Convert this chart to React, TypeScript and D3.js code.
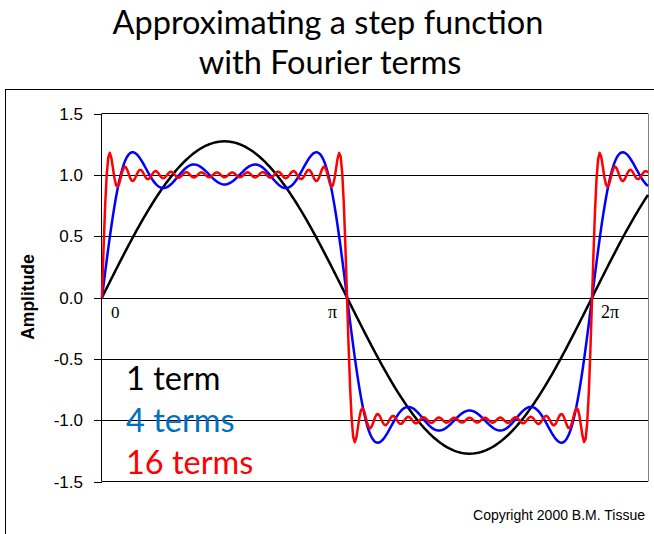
import React from "react";
import * as d3 from "d3";

// ---- data ----
const termCounts = [1, 4, 16];
const seriesLabels = ["1 term", "4 terms", "16 terms"];
const seriesColors = ["#000000", "#0000ff", "#ff0000"];
const labelColors = ["#000000", "#0070c0", "#ff0000"];
const yTicks = [1.5, 1.0, 0.5, 0.0, -0.5, -1.0, -1.5];
const xMarkLabels = ["0", "π", "2π"];
const xMarkValues = [0, Math.PI, 2 * Math.PI];
const xDomain = [0, 7];
const yDomain = [-1.5, 1.5];
const sampleStep = 0.02;

const W = 654;
const H = 534;

// Fourier partial sum of a square wave with k odd harmonics
function fourierSquare(x: number, k: number): number {
  let s = 0;
  for (let i = 0; i < k; i++) {
    const n = 2 * i + 1;
    s += Math.sin(n * x) / n;
  }
  return (4 / Math.PI) * s;
}

export default function App() {
  const left = 102, right = 648, top = 113.5, bottom = 481.5;
  const x = d3.scaleLinear().domain(xDomain).range([left, right]);
  const y = d3.scaleLinear().domain(yDomain).range([bottom, top]);
  const xs = d3.range(xDomain[0], xDomain[1] + 1e-9, sampleStep);
  const line = d3
    .line<[number, number]>()
    .x((d) => x(d[0]))
    .y((d) => y(d[1]));

  const labelOffsets = [9, -19, 9];
  const labelSizes = [17, 18, 18];
  const legendY = [390, 432, 474];

  return (
    <svg width={W} height={H} style={{ position: "absolute", left: 0, top: 0 }}>
      <rect x={0} y={0} width={W} height={H} fill="#fff" />
      {/* title */}
      <text
        x={328}
        y={34}
        textAnchor="middle"
        fontFamily="Lato, 'Open Sans', sans-serif"
        fontSize={32.5}
        fill="#000"
      >
        Approximating a step function
      </text>
      <text
        x={330}
        y={74}
        textAnchor="middle"
        fontFamily="Lato, 'Open Sans', sans-serif"
        fontSize={32.5}
        fill="#000"
      >
        with Fourier terms
      </text>
      {/* outer border */}
      <rect x={5.5} y={89.5} width={800} height={600} fill="none" stroke="#000" strokeWidth={1} />
      {/* gridlines and ticks */}
      {yTicks.map((t) => (
        <g key={t}>
          <line
            x1={94}
            x2={t === 1.5 || t === -1.5 ? left : right}
            y1={Math.round(y(t)) + 0.5}
            y2={Math.round(y(t)) + 0.5}
            stroke="#000"
            strokeWidth={1}
          />
          <text
            x={83}
            y={y(t) + 6}
            textAnchor="end"
            fontFamily="'Liberation Sans', Arial, sans-serif"
            fontSize={17}
            fill="#000"
          >
            {t.toFixed(1)}
          </text>
        </g>
      ))}
      {/* plot frame */}
      <line x1={left} x2={right} y1={top} y2={top} stroke="#000" />
      <line x1={right + 0.5} x2={right + 0.5} y1={top} y2={bottom} stroke="#808080" />
      <line x1={left} x2={right} y1={bottom} y2={bottom} stroke="#000" />
      <line x1={left - 0.5} x2={left - 0.5} y1={top} y2={bottom} stroke="#000" />
      {/* y axis title */}
      <text
        transform={`translate(34,297) rotate(-90)`}
        textAnchor="middle"
        fontFamily="'Liberation Sans', Arial, sans-serif"
        fontWeight="bold"
        fontSize={17.5}
        fill="#000"
      >
        Amplitude
      </text>
      {/* curves */}
      {termCounts.map((k, i) => (
        <path
          key={k}
          d={line(xs.map((v) => [v, fourierSquare(v, k)] as [number, number])) || ""}
          fill="none"
          stroke={seriesColors[i]}
          strokeWidth={2.5}
          strokeLinejoin="round"
        />
      ))}
      {/* x marks */}
      {xMarkLabels.map((lab, i) => (
        <text
          key={lab}
          x={x(xMarkValues[i]) + labelOffsets[i]}
          y={318}
          fontFamily="'Liberation Serif', 'Times New Roman', serif"
          fontSize={labelSizes[i]}
          fill="#000"
        >
          {lab}
        </text>
      ))}
      {/* legend */}
      {seriesLabels.map((lab, i) => (
        <text
          key={lab}
          x={126}
          y={legendY[i]}
          fontFamily="Lato, 'Open Sans', sans-serif"
          fontSize={32.5}
          fill={labelColors[i]}
        >
          {lab}
        </text>
      ))}
      {/* copyright */}
      <text
        x={645}
        y={520}
        textAnchor="end"
        fontFamily="'Liberation Sans', Arial, sans-serif"
        fontSize={14}
        fill="#000"
      >
        Copyright 2000 B.M. Tissue
      </text>
    </svg>
  );
}
